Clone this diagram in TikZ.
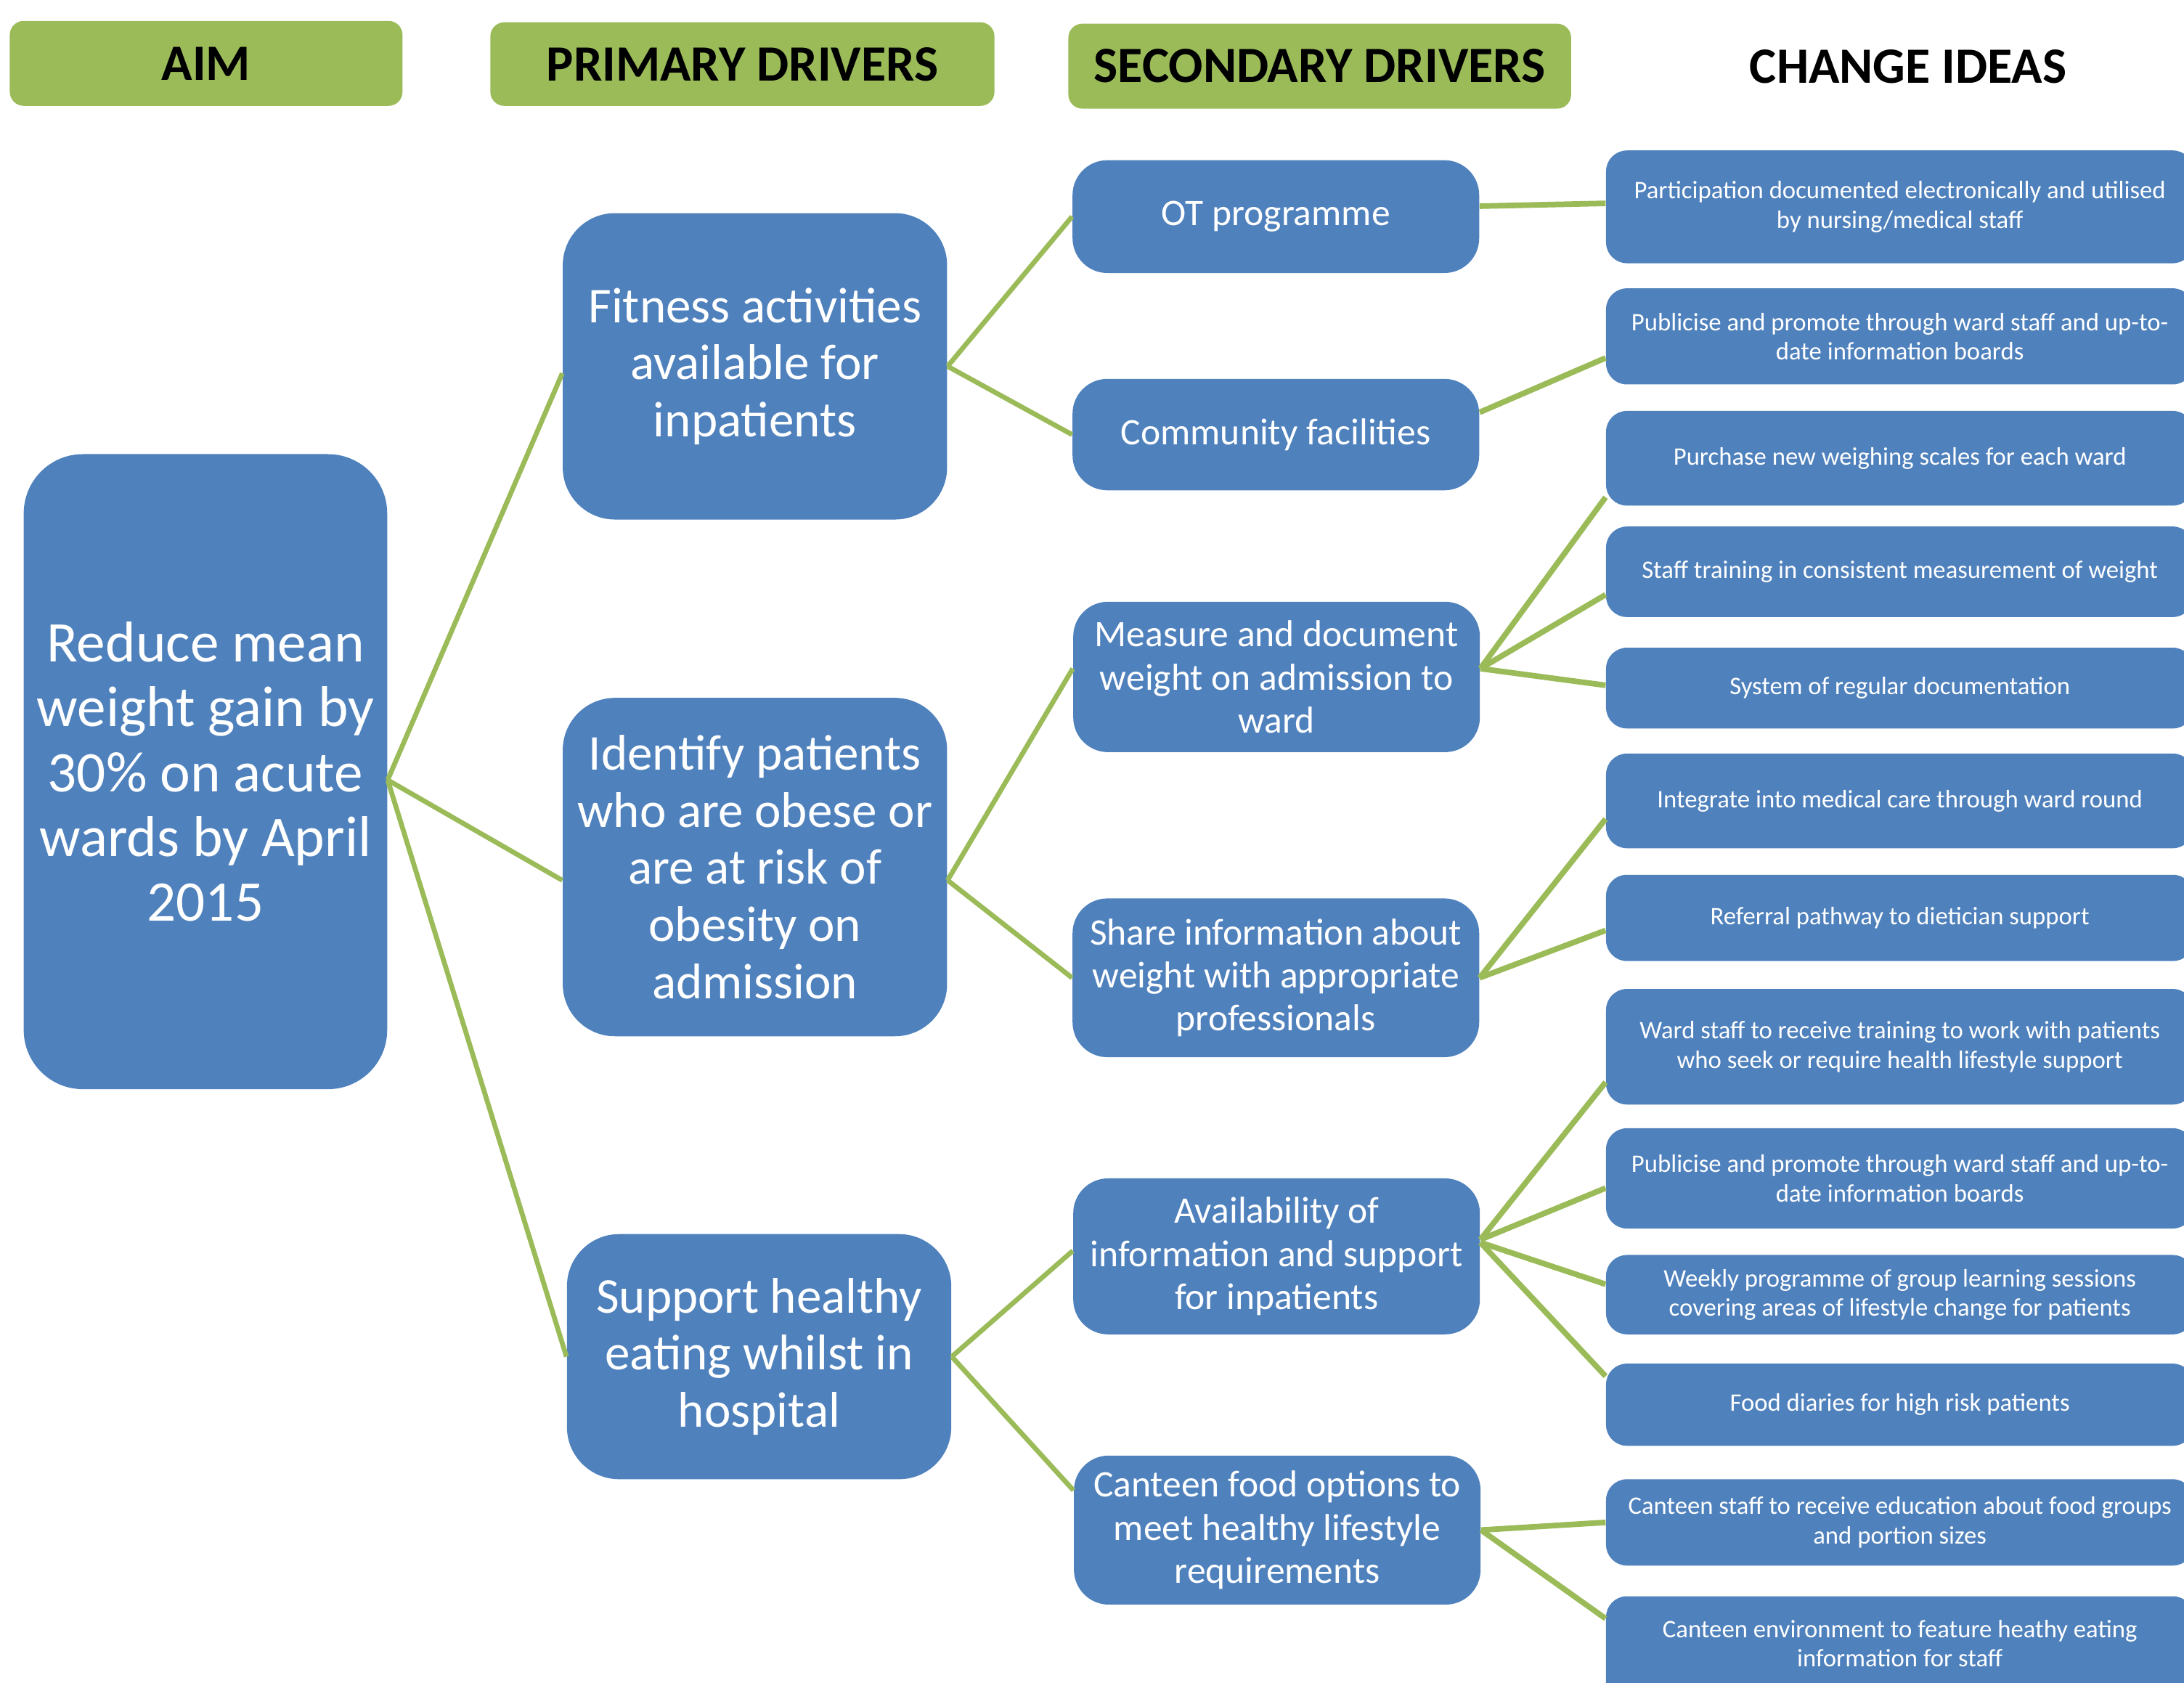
\documentclass[tikz,border=0pt]{standalone}
\usepackage{fontspec}
\setmainfont{Carlito}
\definecolor{boxblue}{HTML}{4F81BD}
\definecolor{hdrgreen}{HTML}{9BBB59}
\tikzset{
  bluebox/.style={fill=boxblue, text=white, inner sep=0pt, align=center},
  aimbox/.style={bluebox, rounded corners=0.85cm, font=\fontsize{23.5}{26.5}\selectfont},
  primbox/.style={bluebox, rounded corners=0.75cm, minimum width=5.52cm, font=\fontsize{20.5}{23.3}\selectfont},
  secbox/.style={bluebox, rounded corners=0.5cm, minimum width=5.84cm, font=\fontsize{15.3}{17.6}\selectfont},
  ideabox/.style={bluebox, rounded corners=0.3cm, minimum width=8.44cm, font=\fontsize{10.3}{12}\selectfont},
  hdrbox/.style={fill=hdrgreen, rounded corners=0.2cm, inner sep=0pt, font=\bfseries\fontsize{20.8}{25}\selectfont},
  link/.style={draw=hdrgreen, line width=2pt},
  rlink/.style={draw=hdrgreen, line width=2.3pt}
}
\begin{document}
\begin{tikzpicture}[x=0.02cm, y=-0.02cm]
\useasboundingbox (0,0) rectangle (1568,1208);
% headers
\node[hdrbox, minimum width=5.64cm, minimum height=1.22cm] (h1) at (148,45.5) {AIM};
\node[hdrbox, minimum width=7.24cm, minimum height=1.2cm] (h2) at (533,46) {PRIMARY DRIVERS};
\node[hdrbox, minimum width=7.22cm, minimum height=1.22cm] (h3) at (947.5,47.5) {SECONDARY DRIVERS};
\node[inner sep=0pt, font=\bfseries\fontsize{20.8}{25}\selectfont] (h4) at (1370,48) {CHANGE IDEAS};
% aim
\node[aimbox, minimum width=5.22cm, minimum height=9.12cm] (aim) at (147.5,554) {Reduce mean\\weight gain by\\30\% on acute\\wards by April\\2015};
% primary
\node[primbox, minimum height=4.4cm] (p1) at (542,263) {Fitness activities\\available for\\inpatients};
\node[primbox, minimum height=4.86cm] (p2) at (542,622.5) {Identify patients\\who are obese or\\are at risk of\\obesity on\\admission};
\node[primbox, minimum height=3.52cm] (p3) at (545,974) {Support healthy\\eating whilst in\\hospital};
% secondary
\node[secbox, minimum height=1.62cm] (s1) at (916,155.5) {OT programme};
\node[secbox, minimum height=1.6cm] (s2) at (916,312) {Community facilities};
\node[secbox, minimum height=2.16cm] (s3) at (916.5,486) {Measure and document\\weight on admission to\\ward};
\node[secbox, minimum height=2.28cm] (s4) at (916,702) {Share information about\\weight with appropriate\\professionals};
\node[secbox, minimum height=2.24cm] (s5) at (916.5,902) {Availability of\\information and support\\for inpatients};
\node[secbox, minimum height=2.14cm] (s6) at (917,1098.5) {Canteen food options to\\meet healthy lifestyle\\requirements};
% change ideas
\node[ideabox, minimum height=1.62cm] (c1) at (1364,148.5) {Participation documented electronically and utilised\\by nursing/medical staff};
\node[ideabox, minimum height=1.38cm] (c2) at (1364,241.5) {Publicise and promote through ward staff and up-to-\\date information boards};
\node[ideabox, minimum height=1.36cm] (c3) at (1364,329) {Purchase new weighing scales for each ward};
\node[ideabox, minimum height=1.30cm] (c4) at (1364,410.5) {Staff training in consistent measurement of weight};
\node[ideabox, minimum height=1.16cm] (c5) at (1364,494) {System of regular documentation};
\node[ideabox, minimum height=1.36cm] (c6) at (1364,575) {Integrate into medical care through ward round};
\node[ideabox, minimum height=1.24cm] (c7) at (1364,659) {Referral pathway to dietician support};
\node[ideabox, minimum height=1.66cm] (c8) at (1364,751.5) {Ward staff to receive training to work with patients\\who seek or require health lifestyle support};
\node[ideabox, minimum height=1.44cm] (c9) at (1364,846) {Publicise and promote through ward staff and up-to-\\date information boards};
\node[ideabox, minimum height=1.14cm] (c10) at (1364,929.5) {Weekly programme of group learning sessions\\covering areas of lifestyle change for patients};
\node[ideabox, minimum height=1.18cm] (c11) at (1364,1008.5) {Food diaries for high risk patients};
\node[ideabox, minimum height=1.24cm] (c12) at (1364,1093) {Canteen staff to receive education about food groups\\and portion sizes};
\node[ideabox, minimum height=1.68cm] (c13) at (1364,1188) {};
\node[inner sep=0pt, text=white, align=center, font=\fontsize{10.3}{12}\selectfont] (c13t) at (1364,1180) {Canteen environment to feature heathy eating\\information for staff};
% connectors aim -> primary
\draw[link] ([yshift=-0.12cm]aim.east) -- ([yshift=-0.1cm]p1.west);
\draw[link] ([yshift=-0.12cm]aim.east) -- ([yshift=-0.19cm]p2.west);
\draw[link] ([yshift=-0.12cm]aim.east) -- (p3.west);
% primary -> secondary
\draw[link] (p1.east) -- (s1.west);
\draw[link] (p1.east) -- (s2.west);
\draw[link] ([yshift=-0.19cm]p2.east) -- ([yshift=0.12cm]s3.west);
\draw[link] ([yshift=-0.19cm]p2.east) -- (s4.west);
\draw[link] (p3.east) -- ([yshift=0.08cm]s5.west);
\draw[link] (p3.east) -- ([yshift=0.57cm]s6.west);
% secondary -> change ideas
\draw[rlink] ([yshift=0.15cm]s1.east) -- ([yshift=0.05cm]c1.west);
\draw[rlink] ([yshift=0.32cm]s2.east) -- ([yshift=-0.31cm]c2.west);
\draw[rlink] ([yshift=0.12cm]s3.east) -- ([yshift=-0.56cm]c3.west);
\draw[rlink] ([yshift=0.12cm]s3.east) -- ([yshift=-0.33cm]c4.west);
\draw[rlink] ([yshift=0.12cm]s3.east) -- ([yshift=0.04cm]c5.west);
\draw[rlink] (s4.east) -- ([yshift=-0.26cm]c6.west);
\draw[rlink] (s4.east) -- ([yshift=-0.18cm]c7.west);
\draw[rlink] ([yshift=0.24cm]s5.east) -- ([yshift=-0.51cm]c8.west);
\draw[rlink] ([yshift=0.24cm]s5.east) -- ([yshift=-0.14cm]c9.west);
\draw[rlink] ([yshift=0.2cm]s5.east) -- ([yshift=0.15cm]c10.west);
\draw[rlink] ([yshift=0.2cm]s5.east) -- ([yshift=0.41cm]c11.west);
\draw[rlink] (s6.east) -- (c12.west);
\draw[rlink] (s6.east) -- ([yshift=0.52cm]c13.west);
\end{tikzpicture}
\end{document}
